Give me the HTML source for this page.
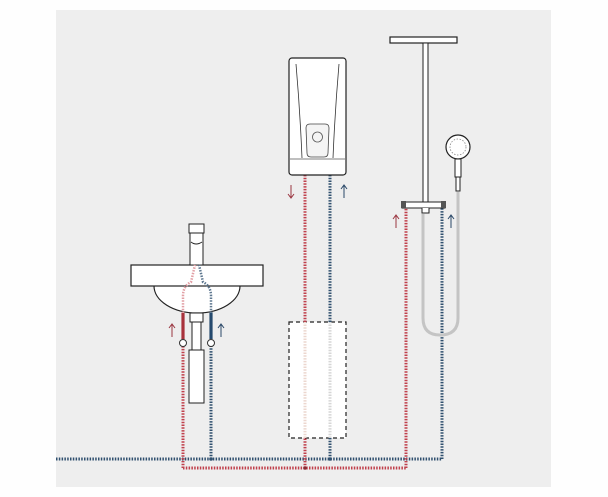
<!DOCTYPE html>
<html><head><meta charset="utf-8"><style>
html,body{margin:0;padding:0;background:#fff;width:608px;height:497px;overflow:hidden}
</style></head><body>
<svg width="608" height="497" viewBox="0 0 608 497" xmlns="http://www.w3.org/2000/svg">
<rect x="0" y="0" width="608" height="497" fill="#fefefe"/>
<rect x="56" y="10" width="495" height="477" fill="#eeeeee"/>

<!-- dashed box -->
<rect x="289" y="322" width="57" height="116" fill="#ffffff" stroke="#222" stroke-width="1.2" stroke-dasharray="4 3"/>

<g fill="none" stroke-width="3" stroke-dasharray="1.5 1.3">
  <path d="M56 459 H442" stroke="#30506f"/>
  <path d="M183 468 H406" stroke="#c0404c"/>
  <path d="M183 468 V300" stroke="#c0404c"/>
  <path d="M211 459 V300" stroke="#30506f"/>
  <path d="M305 468 V438" stroke="#c0404c"/>
  <path d="M305 322 V175" stroke="#c0404c"/>
  <path d="M330 459 V438" stroke="#30506f"/>
  <path d="M330 322 V175" stroke="#30506f"/>
  <path d="M305 438 V322" stroke="#ecd7cf"/>
  <path d="M330 438 V322" stroke="#d6d6d6"/>
  <path d="M406 468 V208" stroke="#c0404c"/>
  <path d="M442 459 V208" stroke="#30506f"/>
</g>
<circle cx="305" cy="468" r="1.8" fill="#8a2a33"/>
<circle cx="330" cy="459" r="1.8" fill="#30506f"/>
<circle cx="211" cy="459" r="1.8" fill="#30506f"/>

<!-- hose -->
<path d="M458 192 V318 Q458 335 440 335 Q423 335 423 318 V214" fill="none" stroke="#c4c4c4" stroke-width="3"/>

<!-- sink -->
<path d="M154 286 A43 27 0 0 0 240 286" fill="#fff" stroke="#222" stroke-width="1.2"/>
<rect x="131" y="265" width="132" height="21" fill="#fff" stroke="#222" stroke-width="1.2"/>
<rect x="189" y="224" width="15" height="9" fill="#fff" stroke="#222" stroke-width="1"/>
<rect x="190" y="233" width="13" height="32" fill="#fff" stroke="#222" stroke-width="1"/>
<path d="M191 242 Q196 246 202 242" fill="none" stroke="#222" stroke-width="1"/>
<g fill="none" stroke-width="2.5" stroke-dasharray="1.5 1.3">
  <path d="M183 313 V296 Q183 286 191 282 L195 265" stroke="#e2a0a6"/>
  <path d="M211 313 V296 Q211 286 203 282 L199 265" stroke="#5f7890"/>
</g>
<rect x="190" y="313" width="13" height="9" fill="#fff" stroke="#222" stroke-width="1"/>
<rect x="192" y="322" width="9" height="28" fill="#fff" stroke="#222" stroke-width="1"/>
<rect x="189" y="350" width="15" height="53" fill="#fff" stroke="#222" stroke-width="1"/>
<line x1="183" y1="313" x2="183" y2="339" stroke="#a8323c" stroke-width="3.2"/>
<line x1="211" y1="313" x2="211" y2="339" stroke="#264a6e" stroke-width="3.2"/>
<circle cx="183" cy="343" r="3.5" fill="#fff" stroke="#333" stroke-width="1"/>
<circle cx="211" cy="343" r="3.5" fill="#fff" stroke="#333" stroke-width="1"/>

<!-- heater -->
<rect x="289" y="58" width="57" height="117" rx="3" fill="#fff" stroke="#222" stroke-width="1.2"/>
<path d="M296 64 Q300 110 302 158 M339 64 Q335 110 333 158" fill="none" stroke="#333" stroke-width="0.8"/>
<line x1="290" y1="159" x2="345" y2="159" stroke="#555" stroke-width="0.8"/>
<path d="M306 128 Q306 124 310 124 H325 Q329 124 329 128 L328 153 Q328 157 324 157 H311 Q307 157 307 153 Z" fill="#f4f4f4" stroke="#444" stroke-width="0.8"/>
<circle cx="317.5" cy="137" r="5" fill="none" stroke="#555" stroke-width="0.8"/>

<!-- shower -->
<rect x="390" y="37" width="67" height="6" fill="#fff" stroke="#222" stroke-width="1.2"/>
<rect x="423" y="43" width="5" height="159" fill="#fff" stroke="#222" stroke-width="1"/>
<rect x="402" y="202" width="43" height="6" fill="#fff" stroke="#222" stroke-width="1"/>
<rect x="401" y="201" width="5" height="7" fill="#555"/>
<rect x="441" y="201" width="5" height="7" fill="#555"/>
<path d="M422 208 V213 H429 V208" fill="#fff" stroke="#222" stroke-width="1"/>
<circle cx="458" cy="147" r="12" fill="#fff" stroke="#222" stroke-width="1.2"/>
<circle cx="458" cy="147" r="8" fill="none" stroke="#888" stroke-width="0.8" stroke-dasharray="1.5 1.5"/>
<rect x="455" y="159" width="6" height="18" fill="#fff" stroke="#222" stroke-width="1"/>
<rect x="456" y="177" width="4" height="14" fill="#fff" stroke="#222" stroke-width="1"/>

<!-- arrows -->
<g fill="none" stroke-width="1">
  <path d="M172 337 V325 M169 328 L172 324 L175 328" stroke="#9a3540"/>
  <path d="M221 337 V325 M218 328 L221 324 L224 328" stroke="#2a4868"/>
  <path d="M291 185 V197 M288 194 L291 198 L294 194" stroke="#9a3540"/>
  <path d="M344 198 V186 M341 189 L344 185 L347 189" stroke="#2a4868"/>
  <path d="M396 228 V216 M393 219 L396 215 L399 219" stroke="#9a3540"/>
  <path d="M451 228 V216 M448 219 L451 215 L454 219" stroke="#2a4868"/>
</g>
</svg>
</body></html>
